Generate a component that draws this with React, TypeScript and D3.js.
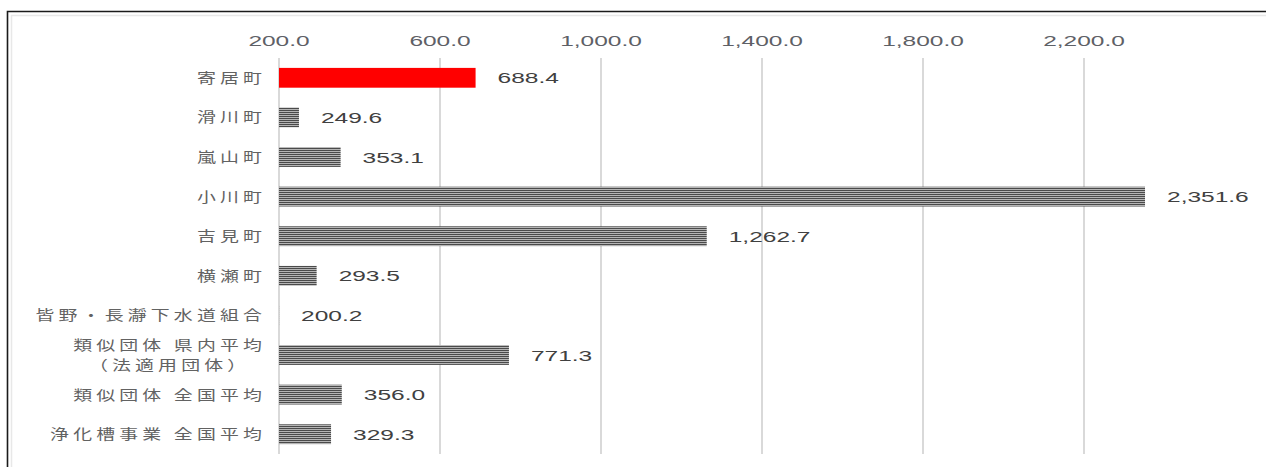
import React, { useRef, useEffect } from 'react';
import * as d3 from 'd3';

// categories (top to bottom), "\n" splits a label onto two lines
const categories = [
  '寄居町',
  '滑川町',
  '嵐山町',
  '小川町',
  '吉見町',
  '横瀬町',
  '皆野・長瀞下水道組合',
  '類似団体 県内平均\n（法適用団体）',
  '類似団体 全国平均',
  '浄化槽事業 全国平均',
];
const values = [688.4, 249.6, 353.1, 2351.6, 1262.7, 293.5, 200.2, 771.3, 356.0, 329.3];
const highlight = '寄居町';
const tickValues = [200, 600, 1000, 1400, 1800, 2200];

const W = 1266;
const H = 467;
const SX = 1.58; // numbers: the picture is stretched sideways
const SXJ = 1.35; // japanese labels: stretched, plus letter spacing
const LSJ = 3.1;

const App: React.FC = () => {
  const svgRef = useRef<SVGSVGElement>(null);

  useEffect(() => {
    if (!svgRef.current) return;
    const svg = d3.select(svgRef.current);
    svg.selectAll('*').remove();

    const x = d3.scaleLinear().domain([200, 2600]).range([279, 1245]);
    const y = d3.scaleBand<string>().domain(categories).range([58, 454])
      .paddingInner(0.5).paddingOuter(0.25);
    const fmt = d3.format(',.1f');

    // fine striped fill for the grey bars
    const pat = svg.append('defs').append('pattern')
      .attr('id', 'stripes')
      .attr('patternUnits', 'userSpaceOnUse')
      .attr('width', 8).attr('height', 2);
    pat.append('rect').attr('width', 8).attr('height', 2).attr('fill', '#b4b4b4');
    pat.append('rect').attr('width', 8).attr('height', 1).attr('fill', '#4a4a4a');

    // frame
    svg.append('rect').attr('x', 0).attr('y', 0).attr('width', W).attr('height', H).attr('fill', '#fff');
    svg.append('path').attr('d', `M7.5,${H} V11.5 H${W}`)
      .attr('fill', 'none').attr('stroke', '#1a1a1a').attr('stroke-width', 1.6);
    svg.append('path').attr('d', `M11.5,${H} V15.5 H${W}`)
      .attr('fill', 'none').attr('stroke', '#e8e8e8').attr('stroke-width', 1.5);

    // stretched text helper
    const label = (px: number, py: number, txt: string, opts: any) => {
      const g = svg.append('g').attr('transform', `translate(${px},${py}) scale(${opts.sx || SX},1)`);
      return g.append('text')
        .attr('text-anchor', opts.anchor || 'start')
        .attr('font-family', opts.font)
        .attr('font-size', opts.size)
        .attr('letter-spacing', opts.ls || 0)
        .attr('fill', opts.color)
        .text(txt);
    };

    const numFont = '"Liberation Sans", Arial, sans-serif';
    const jp = { font: '"Noto Sans CJK JP", sans-serif', size: 14, color: '#626262', sx: SXJ, ls: LSJ };

    // gridlines
    svg.append('g').selectAll('line')
      .data(tickValues)
      .enter().append('line')
      .attr('x1', (d) => x(d)).attr('x2', (d) => x(d))
      .attr('y1', 58).attr('y2', 454)
      .attr('stroke', '#d9d9d9').attr('stroke-width', 2);

    // tick labels on top
    tickValues.forEach((t) => {
      label(x(t), 46, fmt(t), { anchor: 'middle', font: numFont, size: 15.5, color: '#5e6066' });
    });

    // bars
    categories.forEach((c, i) => {
      const v = values[i];
      const y0 = y(c) as number;
      svg.append('rect')
        .attr('x', x(200))
        .attr('y', y0)
        .attr('width', Math.max(0, x(v) - x(200)))
        .attr('height', y.bandwidth())
        .attr('fill', c === highlight ? '#ff0000' : 'url(#stripes)');

      // value label
      label(x(v) + 22, y0 + y.bandwidth() / 2 + 5.5, fmt(v), { font: numFont, size: 15.5, color: '#404040' });

      // category label (multi-line ones are centred on each other)
      const lines = c.split('\n');
      const cy = y0 + y.bandwidth() / 2;
      const right = 262 + LSJ * SXJ; // trailing letter spacing
      if (lines.length === 1) {
        label(right, cy + 5, c, { ...jp, anchor: 'end' });
      } else {
        const first = label(0, 0, lines[0], jp);
        const wFirst = (first.node() as SVGTextElement).getComputedTextLength() * SXJ;
        (first.node() as SVGTextElement).parentElement!.remove();
        const centre = right - wFirst / 2;
        lines.forEach((ln, k) => {
          label(centre, cy + 5 + (k - (lines.length - 1) / 2) * 20.5, ln, { ...jp, anchor: 'middle' });
        });
      }
    });
  }, []);

  return (
    <svg
      ref={svgRef}
      width={W}
      height={H}
      style={{ position: 'absolute', left: 0, top: 0, display: 'block' }}
    />
  );
};

export default App;
